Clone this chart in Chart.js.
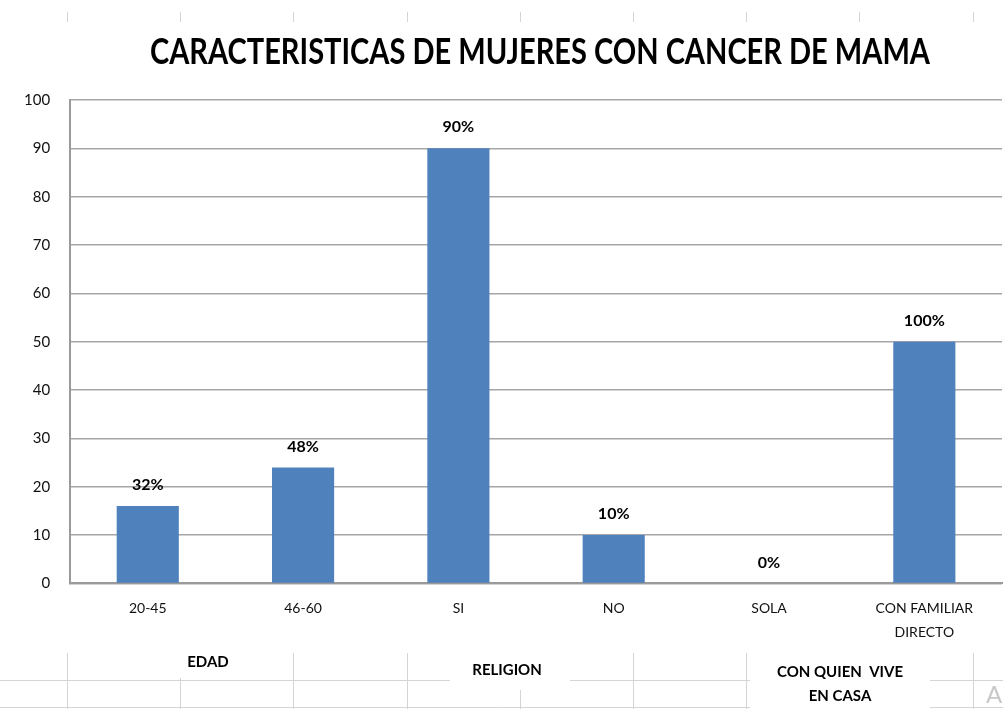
<!DOCTYPE html>
<html>
<head>
<meta charset="utf-8">
<script src="https://cdn.jsdelivr.net/npm/chart.js@4.4.0/dist/chart.umd.min.js"></script>
<style>
  html, body { margin: 0; padding: 0; background: #fff; }
  #wrap { width: 1003px; height: 709px; }
</style>
</head>
<body>
<div id="wrap"><canvas id="chart" width="1003" height="709"></canvas></div>
<script>
const categories = ['20-45', '46-60', 'SI', 'NO', 'SOLA', ['CON FAMILIAR', 'DIRECTO']];
const values = [16, 24, 90, 10, 0, 50];
const barLabels = ['32%', '48%', '90%', '10%', '0%', '100%'];
const groupLabels = [['EDAD'], ['RELIGION'], ['CON QUIEN  VIVE', 'EN CASA']];
const yTicks = [0, 10, 20, 30, 40, 50, 60, 70, 80, 90, 100];
const chartTitle = 'CARACTERISTICAS DE MUJERES CON CANCER DE MAMA';

const FONT = 'Lato, "Open Sans", sans-serif';

// spreadsheet cells behind the chart, title, group captions under the axis
const sheetPlugin = {
    id: 'sheet',
    beforeDraw(chart) {
        const ctx = chart.ctx;
        ctx.save();
        ctx.fillStyle = '#fff';
        ctx.fillRect(0, 0, chart.width, chart.height);
        ctx.strokeStyle = '#d4d4d4';
        ctx.lineWidth = 1;
        for (let x = 67; x < 1003; x += 113.2) {
            ctx.beginPath();
            ctx.moveTo(Math.round(x) + 0.5, 12);
            ctx.lineTo(Math.round(x) + 0.5, 22);
            ctx.moveTo(Math.round(x) + 0.5, 653);
            ctx.lineTo(Math.round(x) + 0.5, 709);
            ctx.stroke();
        }
        ctx.beginPath();
        ctx.moveTo(0, 680.5);
        ctx.lineTo(1003, 680.5);
        ctx.moveTo(0, 707.5);
        ctx.lineTo(1003, 707.5);
        ctx.stroke();

        // title, squeezed to look like a condensed bold face
        ctx.font = 'bold 36px ' + FONT;
        ctx.fillStyle = '#000';
        ctx.textBaseline = 'middle';
        ctx.textAlign = 'center';
        const w = ctx.measureText(chartTitle).width;
        const sx = 780 / w;
        ctx.translate(540, 52);
        ctx.scale(sx, 1);
        ctx.fillText(chartTitle, 0, 0);
        ctx.restore();
    },
    afterDraw(chart) {
        const ctx = chart.ctx;
        ctx.save();
        // text boxes cover the cell lines
        ctx.fillStyle = '#fff';
        ctx.fillRect(135, 650, 150, 28);
        ctx.fillRect(450, 650, 120, 40);
        ctx.fillRect(750, 650, 180, 59);
        ctx.fillStyle = '#000';
        ctx.font = 'bold 15px ' + FONT;
        ctx.textAlign = 'center';
        ctx.textBaseline = 'middle';
        ctx.fillText(groupLabels[0][0], 208, 662);
        ctx.fillText(groupLabels[1][0], 507, 670);
        ctx.fillText(groupLabels[2][0], 840, 672);
        ctx.fillText(groupLabels[2][1], 840, 696);
        ctx.fillStyle = '#c8c8c8';
        ctx.font = '24px ' + FONT;
        ctx.fillText('A', 994, 695);
        ctx.restore();
    }
};

const valueLabels = {
    id: 'valueLabels',
    afterDatasetsDraw(chart) {
        const ctx = chart.ctx;
        const meta = chart.getDatasetMeta(0);
        ctx.save();
        ctx.fillStyle = '#000';
        ctx.font = 'bold 16px ' + FONT;
        ctx.textAlign = 'center';
        ctx.textBaseline = 'middle';
        meta.data.forEach((bar, i) => {
            ctx.fillText(barLabels[i], bar.x, bar.y - 21);
        });
        ctx.restore();
    }
};

new Chart(document.getElementById('chart'), {
    type: 'bar',
    data: {
        labels: categories,
        datasets: [{
            data: values,
            backgroundColor: '#4f81bd',
            categoryPercentage: 1,
            barPercentage: 0.4
        }]
    },
    options: {
        responsive: false,
        animation: false,
        layout: { padding: { top: 100, right: 1, bottom: 52, left: 4 } },
        plugins: {
            legend: { display: false },
            tooltip: { enabled: false },
            title: { display: false }
        },
        scales: {
            x: {
                grid: { display: false, drawTicks: false },
                border: { color: '#9a9a9a', width: 2 },
                ticks: {
                    color: '#111',
                    font: { family: FONT, size: 14, lineHeight: 1.7 },
                    padding: 13,
                    maxRotation: 0,
                    autoSkip: false
                }
            },
            y: {
                min: 0,
                max: 100,
                afterBuildTicks(axis) {
                    axis.ticks = yTicks.map(v => ({ value: v }));
                },
                grid: { color: '#a6a6a6', lineWidth: 1.5, drawTicks: false },
                border: { color: '#9a9a9a', width: 2 },
                ticks: {
                    color: '#111',
                    font: { family: FONT, size: 15 },
                    padding: 20
                }
            }
        }
    },
    plugins: [sheetPlugin, valueLabels]
});
</script>
</body>
</html>
